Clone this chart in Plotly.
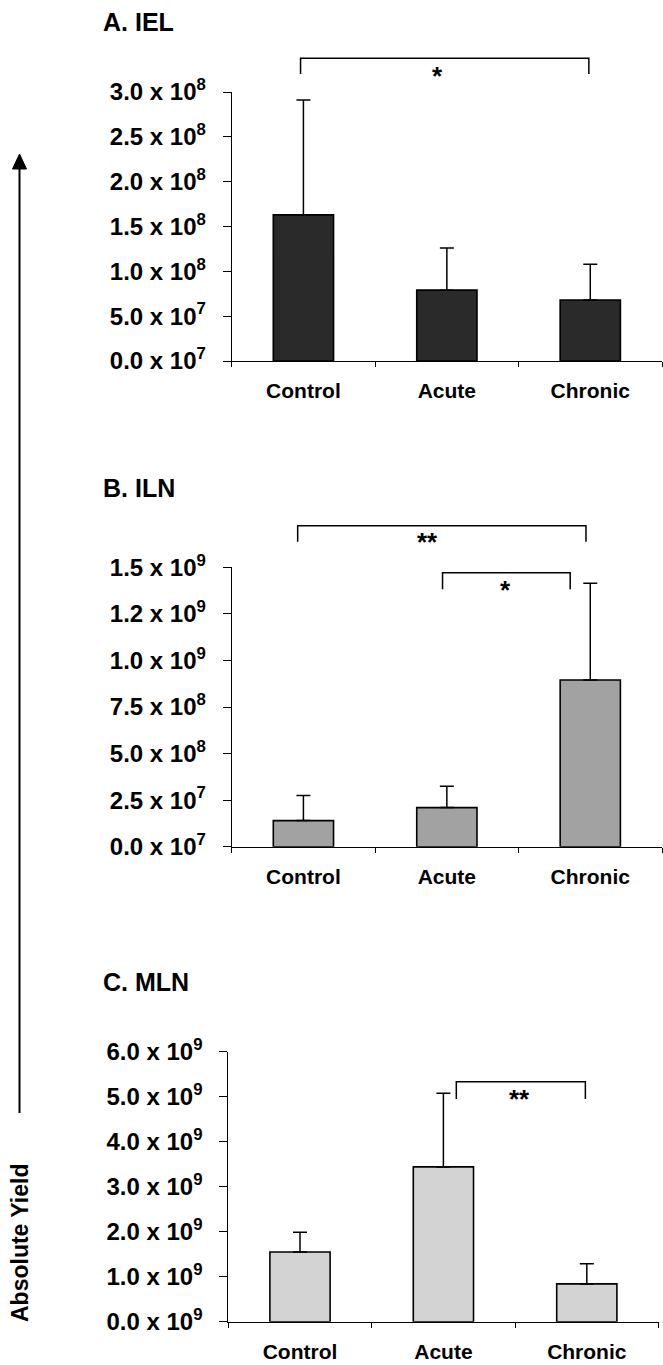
import plotly.graph_objects as go

W, H = 663, 1365

categories = ["Control", "Acute", "Chronic"]

# Panel A: IEL
iel_mean = [1.63e8, 0.79e8, 0.68e8]
iel_err = [1.28e8, 0.47e8, 0.40e8]
iel_tickvals = [0, 0.5e8, 1.0e8, 1.5e8, 2.0e8, 2.5e8, 3.0e8]
iel_ticktext = ["0.0 x 10<sup>7</sup>", "5.0 x 10<sup>7</sup>", "1.0 x 10<sup>8</sup>",
                "1.5 x 10<sup>8</sup>", "2.0 x 10<sup>8</sup>", "2.5 x 10<sup>8</sup>",
                "3.0 x 10<sup>8</sup>"]

# Panel B: ILN
iln_mean = [0.14e9, 0.21e9, 0.895e9]
iln_err = [0.135e9, 0.115e9, 0.52e9]
iln_tickvals = [0, 0.25e9, 0.5e9, 0.75e9, 1.0e9, 1.25e9, 1.5e9]
iln_ticktext = ["0.0 x 10<sup>7</sup>", "2.5 x 10<sup>7</sup>", "5.0 x 10<sup>8</sup>",
                "7.5 x 10<sup>8</sup>", "1.0 x 10<sup>9</sup>", "1.2 x 10<sup>9</sup>",
                "1.5 x 10<sup>9</sup>"]

# Panel C: MLN
mln_mean = [1.55e9, 3.44e9, 0.84e9]
mln_err = [0.44e9, 1.635e9, 0.445e9]
mln_tickvals = [0, 1e9, 2e9, 3e9, 4e9, 5e9, 6e9]
mln_ticktext = ["0.0 x 10<sup>9</sup>", "1.0 x 10<sup>9</sup>", "2.0 x 10<sup>9</sup>",
                "3.0 x 10<sup>9</sup>", "4.0 x 10<sup>9</sup>", "5.0 x 10<sup>9</sup>",
                "6.0 x 10<sup>9</sup>"]

panel_titles = ["A. IEL", "B. ILN", "C. MLN"]
bar_colors = ["#2a2a2a", "#a2a2a2", "#d3d3d3"]

# significance brackets: (panel index, left category pos, right category pos, label)
brackets = [
    (0, -0.02, 1.99, "*"),
    (1, -0.04, 1.97, "**"),
    (1, 0.97, 1.86, "*"),
    (2, 1.09, 1.99, "**"),
]

FONT = "Liberation Sans, Arial, sans-serif"

def px2x(px):
    return px / W

def py2y(py):
    return 1 - py / H

# layout geometry in pixels
x_doms_px = [(231.7, 662.0), (231.7, 662.0), (228.3, 658.5)]
y_doms_px = [(92.0, 361.0), (567.3, 846.7), (1051.7, 1321.7)]  # (top, bottom)
title_y_px = [21.7, 488.3, 981.7]
bracket_px = [  # (top y, leg bottom y, star x, star y)
    (58.3, 74.0, 437.6, 76.0),
    (525.7, 541.7, 427.0, 542.0),
    (572.7, 589.3, 506.0, 590.0),
    (1081.7, 1099.0, 519.0, 1099.0),
]

means = [iel_mean, iln_mean, mln_mean]
errs = [iel_err, iln_err, mln_err]
tvals = [iel_tickvals, iln_tickvals, mln_tickvals]
ttexts = [iel_ticktext, iln_ticktext, mln_ticktext]

fig = go.Figure()
layout = dict(
    width=W, height=H,
    margin=dict(l=0, r=0, t=0, b=0, pad=0, autoexpand=False),
    paper_bgcolor="white", plot_bgcolor="white",
    showlegend=False,
    font=dict(family=FONT, color="black"),
)

for i in range(3):
    xa = "x" if i == 0 else f"x{i+1}"
    ya = "y" if i == 0 else f"y{i+1}"
    fig.add_trace(go.Bar(
        x=categories, y=means[i], xaxis=xa, yaxis=ya,
        width=0.42,
        marker=dict(color=bar_colors[i], line=dict(color="black", width=1.6)),
        error_y=dict(type="data", array=errs[i], arrayminus=[0, 0, 0], symmetric=False,
                     color="black", thickness=1.5, width=7),
    ))
    xk = "xaxis" if i == 0 else f"xaxis{i+1}"
    yk = "yaxis" if i == 0 else f"yaxis{i+1}"
    x0, x1 = x_doms_px[i]
    yt, yb = y_doms_px[i]
    layout[xk] = dict(
        domain=[px2x(x0), px2x(x1)], anchor=ya, type="category", automargin=False,
        range=[-0.5, 2.5], showline=True, linecolor="black", linewidth=1,
        ticks="outside", tickson="boundaries", ticklen=5, tickcolor="black",
        tickfont=dict(family=FONT, size=21, color="black", weight="bold"),
        ticklabelstandoff=11, showgrid=False, zeroline=False, fixedrange=True,
    )
    layout[yk] = dict(
        domain=[py2y(yb), py2y(yt)], anchor=xa, automargin=False,
        range=[0, tvals[i][-1]], tickvals=tvals[i], ticktext=ttexts[i],
        showline=True, linecolor="black", linewidth=1,
        ticks="outside", ticklen=8, tickcolor="black",
        tickfont=dict(family=FONT, size=24, color="black", weight="bold"),
        ticklabelstandoff=12, showgrid=False, zeroline=False, fixedrange=True,
    )

annotations = []
shapes = []
for i, t in enumerate(panel_titles):
    annotations.append(dict(
        text=f"<b>{t}</b>", xref="paper", yref="paper",
        x=px2x(101), y=py2y(title_y_px[i]), xanchor="left", yanchor="middle",
        showarrow=False, font=dict(family=FONT, size=25, color="black"),
    ))

for (p, cl, cr, lab), (ytop, ybot, sx, sy) in zip(brackets, bracket_px):
    x0, x1 = x_doms_px[p]
    step = (x1 - x0) / 3
    lx = x0 + (cl + 0.5) * step
    rx = x0 + (cr + 0.5) * step
    path = (f"M {px2x(lx)},{py2y(ybot)} L {px2x(lx)},{py2y(ytop)} "
            f"L {px2x(rx)},{py2y(ytop)} L {px2x(rx)},{py2y(ybot)}")
    shapes.append(dict(type="path", xref="paper", yref="paper", path=path,
                       line=dict(color="black", width=1.5)))
    annotations.append(dict(
        text=f"<b>{lab}</b>", xref="paper", yref="paper",
        x=px2x(sx), y=py2y(sy), xanchor="center", yanchor="middle",
        showarrow=False, font=dict(family=FONT, size=26, color="black"),
    ))

# vertical arrow on the left
shapes.append(dict(type="line", xref="paper", yref="paper",
                   x0=px2x(19.5), x1=px2x(19.5), y0=py2y(168), y1=py2y(1113),
                   line=dict(color="black", width=2)))
shapes.append(dict(type="path", xref="paper", yref="paper",
                   path=(f"M {px2x(12.5)},{py2y(169)} L {px2x(26.5)},{py2y(169)} "
                         f"L {px2x(19.5)},{py2y(154)} Z"),
                   fillcolor="black", line=dict(color="black", width=1)))
annotations.append(dict(
    text="<b>Absolute Yield</b>", xref="paper", yref="paper",
    x=px2x(20), y=py2y(1243), xanchor="center", yanchor="middle", textangle=-90,
    showarrow=False, font=dict(family=FONT, size=23, color="black"),
))

layout["annotations"] = annotations
layout["shapes"] = shapes
fig.update_layout(**layout)

fig.write_html("out.html")
